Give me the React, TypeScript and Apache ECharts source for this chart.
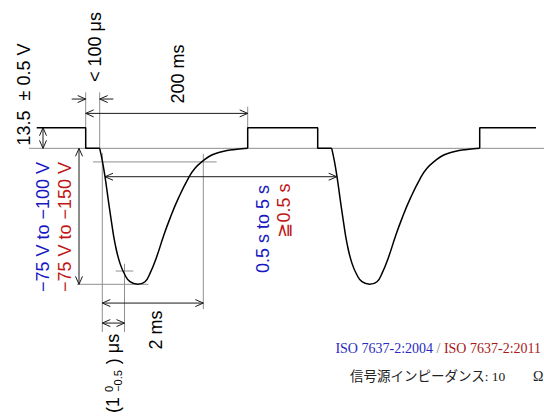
import React, { useEffect, useRef } from "react";
import * as echarts from "echarts";

// Schematic of an ISO 7637-2 test pulse 1 train.
// x: schematic time position, y: voltage (V).
const X_MIN = 0;
const X_MAX = 544;
const Y_MIN = -175.4;
const Y_MAX = 97.2;

const SUPPLY_V = 13.5;

// One negative pulse, relative to where the fall starts (dt, V)
const pulseDt = [0, 2.6, 5.3, 8.6, 12, 15.3, 20.3, 25.3, 30.3, 38, 45.3, 50.3, 57, 63.6, 70.3, 78.6, 88.6, 95.3, 103.6, 112, 122, 135.3, 148];
const pulseV = [0, -8.1, -18.6, -33.9, -49.1, -62.3, -75.4, -83.0, -87.4, -89.1, -87.4, -81.9, -71.0, -57.9, -45.9, -32.8, -19.7, -13.1, -8.1, -4.4, -2.2, -0.7, 0];
const pulseStarts = [99.7, 331.7];

// Supply-level segments between pulses
const levelSegments: number[][][] = [
  [[36.7, SUPPLY_V], [85.7, SUPPLY_V], [85.7, 0], [99.7, 0]],
  [[247.7, 0], [247.7, SUPPLY_V], [317.7, SUPPLY_V], [317.7, 0], [331.7, 0]],
  [[479.7, 0], [479.7, SUPPLY_V], [536, SUPPLY_V]],
];

// Thin guide lines [x1, y1, x2, y2]
const guideLines = [
  [29, 0, 544, 0],
  [85.7, 36.7, 85.7, 13.5],
  [99.7, 36.7, 99.7, 0],
  [247.7, 27.3, 247.7, 13.5],
  [93, -8.9, 216.7, -8.9],
  [102.3, -3.1, 102.3, -120.4],
  [203.3, -3.7, 203.3, -105.3],
  [77, -89.1, 148.3, -89.1],
  [115.7, -80.4, 133.3, -80.4],
  [124.5, -75.6, 124.5, -120.4],
];

// Dimension lines [x1, y1, x2, y2, arrowAtStart, arrowAtEnd]
const dimensionLines = [
  [43, SUPPLY_V, 43, 0, 1, 1],
  [79, 0, 79, -89.1, 1, 1],
  [71.7, 32.3, 85.7, 32.3, 0, 1],
  [113.3, 32.3, 99.7, 32.3, 0, 1],
  [85.7, 22.9, 247.7, 22.9, 1, 1],
  [105, -18.6, 336.7, -18.6, 1, 1],
  [102.3, -101.4, 203.3, -101.4, 1, 1],
  [102.3, -114.5, 124.5, -114.5, 1, 1],
];

const BLUE = "#1818c2";
const RED = "#c11616";
const SANS = "'Liberation Sans', Arial, sans-serif";
const SERIF = "'Liberation Serif', 'Times New Roman', serif";

function pulseData(start: number) {
  return pulseDt.map((dt, i) => [start + dt, pulseV[i]]);
}

function arrowHead(tip: number[], from: number[]) {
  const dx = tip[0] - from[0];
  const dy = tip[1] - from[1];
  const len = Math.hypot(dx, dy) || 1;
  const ux = dx / len;
  const uy = dy / len;
  const L = 8;
  const W = 3.5;
  return {
    type: "polyline",
    shape: {
      points: [
        [tip[0] - L * ux - W * uy, tip[1] - L * uy + W * ux],
        [tip[0], tip[1]],
        [tip[0] - L * ux + W * uy, tip[1] - L * uy - W * ux],
      ],
    },
    style: { stroke: "#1a1a1a", lineWidth: 1, fill: null },
  };
}

function vText(text: string, x: number, y: number, color: string, size = 18, font = SANS) {
  return {
    type: "text",
    x,
    y,
    rotation: Math.PI / 2,
    style: {
      text,
      fill: color,
      font: `${size}px ${font}`,
      align: "center",
      verticalAlign: "middle",
    },
  };
}

export default function App() {
  const ref = useRef<HTMLDivElement>(null);

  useEffect(() => {
    const chart = echarts.init(ref.current!, null, { renderer: "svg" });

    const traceStyle = { color: "#000", width: 1.5 };

    const series: any[] = [
      {
        type: "custom",
        name: "guides",
        z: 1,
        encode: { x: [0, 2], y: [1, 3] },
        data: guideLines,
        renderItem: (_p: any, api: any) => {
          const a = api.coord([api.value(0), api.value(1)]);
          const b = api.coord([api.value(2), api.value(3)]);
          return {
            type: "line",
            shape: { x1: a[0], y1: a[1], x2: b[0], y2: b[1] },
            style: { stroke: "#8f8f8f", lineWidth: 1 },
          };
        },
      },
      {
        type: "custom",
        name: "dimensions",
        z: 2,
        encode: { x: [0, 2], y: [1, 3] },
        data: dimensionLines,
        renderItem: (_p: any, api: any) => {
          const a = api.coord([api.value(0), api.value(1)]);
          const b = api.coord([api.value(2), api.value(3)]);
          const children: any[] = [
            {
              type: "line",
              shape: { x1: a[0], y1: a[1], x2: b[0], y2: b[1] },
              style: { stroke: "#1a1a1a", lineWidth: 1 },
            },
          ];
          if (api.value(4)) children.push(arrowHead(a, b));
          if (api.value(5)) children.push(arrowHead(b, a));
          return { type: "group", children };
        },
      },
      ...levelSegments.map((seg) => ({
        type: "line",
        z: 3,
        data: seg,
        showSymbol: false,
        lineStyle: traceStyle,
      })),
      ...pulseStarts.map((s) => ({
        type: "line",
        z: 3,
        data: pulseData(s),
        showSymbol: false,
        smooth: 0.5,
        lineStyle: traceStyle,
      })),
    ];

    chart.setOption({
      animation: false,
      backgroundColor: "#fff",
      grid: { left: 0, right: 0, top: 0, bottom: 0 },
      xAxis: { type: "value", min: X_MIN, max: X_MAX, show: false },
      yAxis: { type: "value", min: Y_MIN, max: Y_MAX, show: false },
      series,
      graphic: [
        vText("13.5\u00a0 ± 0.5 V", 24, 94.5, "#000"),
        vText("< 100 μs", 95, 47, "#000"),
        vText("200 ms", 177.5, 74, "#000"),
        vText("−75 V to −100 V", 43, 227, BLUE),
        vText("−75 V to −150 V", 65, 227, RED),
        vText("0.5 s to 5 s", 262.5, 229, BLUE),
        vText("≧0.5 s", 284, 210.5, RED),
        vText("2 ms", 156, 330, "#000"),
        vText("(1", 113, 405, "#000"),
        vText("0", 108.5, 389, "#000", 11),
        vText("−0.5", 118, 381, "#000", 11),
        vText(") μs", 113, 349, "#000"),
        {
          type: "text",
          x: 541,
          y: 348,
          style: {
            text: "{b|ISO 7637-2:2004} {g|/} {r|ISO 7637-2:2011}",
            align: "right",
            verticalAlign: "middle",
            font: `14px ${SERIF}`,
            rich: {
              b: { fill: "#2a2ac0", font: `14px ${SERIF}` },
              g: { fill: "#777", font: `14px ${SERIF}` },
              r: { fill: "#a81818", font: `14px ${SERIF}` },
            },
          },
        },
        {
          type: "text",
          x: 350,
          y: 376,
          style: {
            text: "信号源インピーダンス: 10",
            align: "left",
            verticalAlign: "middle",
            fill: "#222",
            font: `13.5px ${SERIF}, 'Noto Sans CJK JP'`,
          },
        },
        {
          type: "text",
          x: 533,
          y: 376,
          style: {
            text: "Ω",
            align: "left",
            verticalAlign: "middle",
            fill: "#222",
            font: `14px ${SERIF}`,
          },
        },
      ],
    });

    return () => chart.dispose();
  }, []);

  return (
    <div
      ref={ref}
      style={{ position: "absolute", left: 0, top: 0, width: 544, height: 416, background: "#fff" }}
    />
  );
}
